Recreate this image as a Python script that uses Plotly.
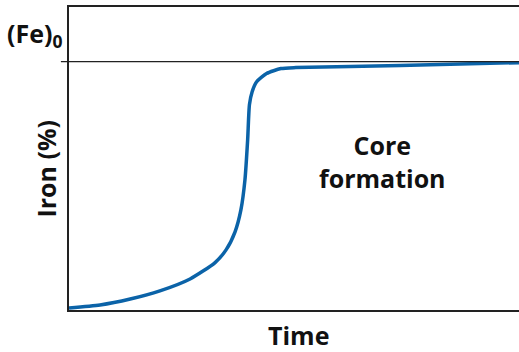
import plotly.graph_objects as go

# curve (time in arbitrary units, iron as % of (Fe)0)
time = [0, 6.9, 13.6, 20.2, 26.9, 32.4, 34.9, 36.9, 38.2, 39.1, 39.7, 40.1,
        40.7, 41.7, 43.9, 47.1, 50.4, 73.6, 100]
iron = [0.8, 2.0, 4.4, 7.7, 12.5, 19.0, 24.2, 31.5, 40.3, 52.4, 68.5, 82.7,
        87.9, 91.9, 95.2, 97.2, 97.6, 98.4, 99.6]
fe0 = 100

FONT = "Open Sans"
TXT = "#111"

fig = go.Figure()
fig.add_trace(go.Scatter(x=time, y=iron, mode="lines",
                         line=dict(color="#0b63a8", width=3.5, shape="spline", smoothing=0.6),
                         hoverinfo="skip"))

# (Fe)0 reference line with a short tick poking out to the left
fig.add_shape(type="line", xref="paper", yref="y", x0=-0.018, x1=1, y0=fe0, y1=fe0,
              line=dict(color="#222", width=1.3))

fig.add_annotation(xref="paper", yref="y", x=-0.012, y=fe0 + 2.5, xanchor="right", yanchor="bottom",
                   text="<b>(Fe)<sub>0</sub></b>", showarrow=False,
                   font=dict(family=FONT, size=25, color=TXT))
fig.add_annotation(x=69.6, y=59.7, text="<b>Core<br>formation</b>", showarrow=False,
                   font=dict(family=FONT, size=25, color=TXT), align="center")

# axis titles as annotations so they sit where the reference has them
fig.add_annotation(xref="paper", yref="paper", x=0.51, y=-0.083, yanchor="middle",
                   text="<b>Time</b>", showarrow=False,
                   font=dict(family=FONT, size=25, color=TXT))
fig.add_annotation(xref="paper", yref="paper", x=-0.05, y=0.465, xanchor="center", yanchor="middle",
                   text="<b>Iron (%)</b>", textangle=-90, showarrow=False,
                   font=dict(family=FONT, size=25, color=TXT))

fig.update_layout(
    width=519, height=352,
    margin=dict(l=69, r=0, t=7, b=42),
    paper_bgcolor="white", plot_bgcolor="white",
    showlegend=False,
    xaxis=dict(range=[0, 100], showticklabels=False, ticks="", showgrid=False, zeroline=False,
               showline=True, linecolor="#222", linewidth=1.5, mirror=True, automargin=False),
    yaxis=dict(range=[0, 122], showticklabels=False, ticks="", showgrid=False, zeroline=False,
               showline=True, linecolor="#222", linewidth=1.5, automargin=False),
)

# drop the browser's default body margin so the figure sits at the window's corner
fig.write_html("out.html", config={"displayModeBar": False},
               post_script="document.body.style.margin='0';")
